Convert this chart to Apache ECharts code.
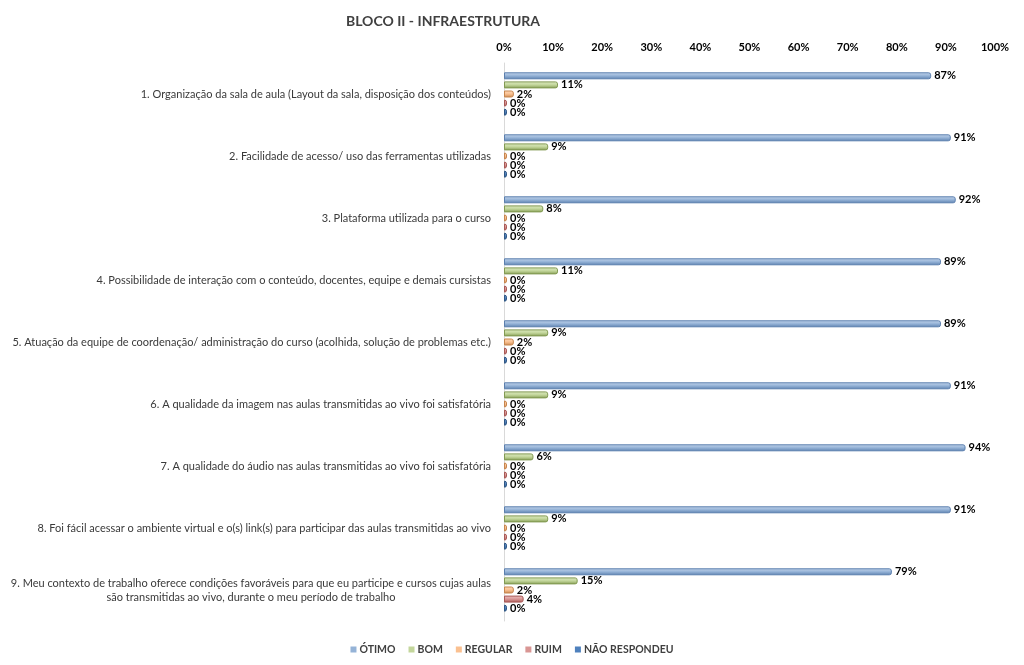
<!DOCTYPE html>
<html>
<head>
<meta charset="utf-8">
<script src="https://cdn.jsdelivr.net/npm/echarts@6/dist/echarts.min.js"></script>
<style>
  html, body { margin: 0; padding: 0; background: #fff; }
  #chart { width: 1024px; height: 665px; }
</style>
</head>
<body>
<div id="chart"></div>
<script>
// perguntas do bloco II
const categories = [
  '1. Organização da sala de aula (Layout da sala, disposição dos conteúdos)',
  '2. Facilidade de acesso/ uso das ferramentas utilizadas',
  '3. Plataforma utilizada para o curso',
  '4. Possibilidade de interação com o conteúdo, docentes, equipe e demais cursistas',
  '5. Atuação da equipe de coordenação/ administração do curso (acolhida, solução de problemas etc.)',
  '6. A qualidade da imagem nas aulas transmitidas ao vivo foi satisfatória',
  '7. A qualidade do áudio nas aulas transmitidas ao vivo foi satisfatória',
  '8. Foi fácil acessar o ambiente virtual e o(s) link(s) para participar das aulas transmitidas ao vivo',
  '9. Meu contexto de trabalho oferece condições favoráveis para que eu participe e cursos cujas aulas\nsão transmitidas ao vivo, durante o meu período de trabalho'
];

const otimo = [87, 91, 92, 89, 89, 91, 94, 91, 79];
const bom = [11, 9, 8, 11, 9, 9, 6, 9, 15];
const regular = [2, 0, 0, 0, 2, 0, 0, 0, 2];
const ruim = [0, 0, 0, 0, 0, 0, 0, 0, 4];
const naoRespondeu = [0, 0, 0, 0, 0, 0, 0, 0, 0];

const xTicks = [0, 10, 20, 30, 40, 50, 60, 70, 80, 90, 100];

const font = 'Lato, "Open Sans", sans-serif';

function barStyle(light, mid, dark) {
  return {
    color: new echarts.graphic.LinearGradient(0, 0, 0, 1, [
      { offset: 0, color: light },
      { offset: 0.5, color: mid },
      { offset: 1, color: dark }
    ]),
    borderColor: dark,
    borderWidth: 1,
    borderRadius: [0, 2, 2, 0]
  };
}

function makeSeries(name, data, style) {
  return {
    name: name,
    type: 'bar',
    data: data,
    barWidth: 7,
    barGap: '30%',
    barMinHeight: 3,
    itemStyle: style,
    label: {
      show: true,
      position: 'right',
      distance: 3,
      formatter: '{c}%',
      fontFamily: font,
      fontWeight: 'bold',
      fontSize: 11,
      color: '#000'
    },
    emphasis: { disabled: true }
  };
}

const chart = echarts.init(document.getElementById('chart'));

chart.setOption({
  animation: false,
  title: {
    text: 'BLOCO II - INFRAESTRUTURA',
    left: 438,
    textAlign: 'center',
    top: 9,
    textStyle: { fontFamily: font, fontWeight: 'bold', fontSize: 14, color: '#404040' }
  },
  legend: {
    bottom: 5,
    left: 'center',
    itemWidth: 6,
    itemHeight: 6,
    itemGap: 13,
    icon: 'rect',
    textStyle: { fontFamily: font, fontWeight: 'bold', fontSize: 10.5, color: '#404040', padding: [0, 0, 0, -2] },
    data: [
      { name: 'ÓTIMO', itemStyle: { color: '#95B3D7', borderWidth: 0 } },
      { name: 'BOM', itemStyle: { color: '#C3D69B', borderWidth: 0 } },
      { name: 'REGULAR', itemStyle: { color: '#FAC090', borderWidth: 0 } },
      { name: 'RUIM', itemStyle: { color: '#D99694', borderWidth: 0 } },
      { name: 'NÃO RESPONDEU', itemStyle: { color: '#4F81BD', borderWidth: 0 } }
    ]
  },
  grid: { left: 504, right: 29, top: 63, bottom: 44, containLabel: false },
  xAxis: {
    type: 'value',
    position: 'top',
    min: 0,
    max: 100,
    interval: 10,
    axisLine: { show: false },
    axisTick: { show: false },
    splitLine: { show: false },
    axisLabel: {
      margin: 10,
      fontFamily: font,
      fontWeight: 'bold',
      fontSize: 11,
      color: '#000',
      formatter: v => xTicks.includes(v) ? v + '%' : ''
    }
  },
  yAxis: {
    type: 'category',
    inverse: true,
    data: categories,
    axisLine: { show: true, lineStyle: { color: '#D9D9D9', width: 1 } },
    axisTick: { show: false },
    axisLabel: {
      margin: 13,
      formatter: v => v.split('\n').map(l => '{a|' + l + '}').join('\n'),
      rich: {
        a: { align: 'center', fontFamily: font, fontSize: 11, color: '#3a3a3a', lineHeight: 14 }
      }
    }
  },
  series: [
    makeSeries('ÓTIMO', otimo, barStyle('#C6D6EC', '#95B3D7', '#5B7FAE')),
    makeSeries('BOM', bom, barStyle('#DDEAC2', '#C3D69B', '#829A52')),
    makeSeries('REGULAR', regular, barStyle('#FCD9BC', '#FAC090', '#C7864E')),
    makeSeries('RUIM', ruim, barStyle('#EDC4C3', '#D99694', '#A85855')),
    makeSeries('NÃO RESPONDEU', naoRespondeu, barStyle('#7FA3D0', '#4F81BD', '#2F5785'))
  ]
});
</script>
</body>
</html>
